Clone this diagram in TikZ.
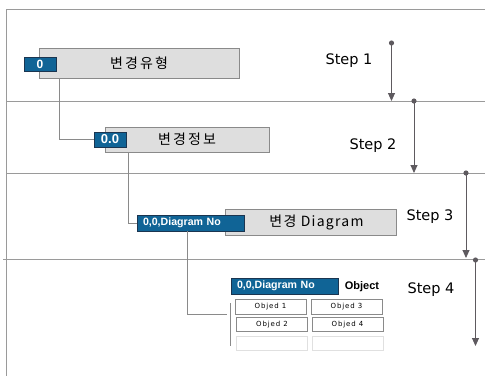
\documentclass[tikz,border=0pt]{standalone}
\usepackage{fontspec}
\setmainfont{Liberation Sans}
\newfontfamily\kr[LetterSpace=15]{Noto Sans CJK KR}
\newfontfamily\krd[LetterSpace=9]{Noto Sans CJK KR}
\newfontfamily\dv{DejaVu Sans}
\newfontfamily\objf[LetterSpace=12]{DejaVu Sans}
\usetikzlibrary{arrows.meta}
\definecolor{bluebox}{HTML}{106496}
\definecolor{blueedge}{HTML}{1B3550}
\definecolor{grayfill}{HTML}{DEDEDE}
\definecolor{grayedge}{HTML}{8A8A8A}
\definecolor{lineg}{HTML}{9A9A9A}
\definecolor{arrowg}{HTML}{5E5A5F}
\tikzset{
  graybox/.style={draw=grayedge, fill=grayfill, line width=0.9pt, inner sep=0pt, anchor=center},
  bluelabel/.style={draw=blueedge, fill=bluebox, line width=0.9pt, inner sep=0pt, text=white, font=\bfseries, anchor=center},
  widelabel/.style={bluelabel, minimum width=107pt, minimum height=16pt, text width=95pt, align=left, font=\bfseries\fontsize{10.6}{10.6}\selectfont},
  conn/.style={draw=grayedge, line width=0.9pt},
  sep/.style={draw=lineg, line width=0.9pt},
  steparrow/.style={draw=arrowg, line width=0.9pt, -{Triangle[width=7pt,length=8pt]}},
  stepdot/.style={fill=arrowg, draw=none},
  steplabel/.style={font=\dv\fontsize{14.5}{16}\selectfont, anchor=center, inner sep=0pt},
  objcell/.style={draw=grayedge, line width=0.8pt, fill=white, minimum width=71pt, minimum height=14.5pt, inner sep=0pt, font=\objf\fontsize{7}{7}\selectfont},
  emptycell/.style={draw=black!12, line width=0.8pt, fill=white, minimum width=71pt, minimum height=14pt, inner sep=0pt},
}
\begin{document}
\begin{tikzpicture}[x=1pt,y=-1pt]
\useasboundingbox (0,0) rectangle (485,376);
% frame and separators
\draw[sep] (485,9.5) -- (6,9.5) -- (6,376);
\draw[sep] (6,101) -- (485,101);
\draw[sep] (6,173) -- (485,173);
\draw[sep] (3,259.5) -- (485,259.5);

% step 1
\node[graybox, minimum width=200pt, minimum height=30pt] (g1) at (139,63) {\kr\fontsize{14}{16}\selectfont 변경유형};
\node[bluelabel, minimum width=32pt, minimum height=14pt, font=\bfseries\fontsize{12}{12}\selectfont] (b1) at (40,64) {0};
% step 2
\node[graybox, minimum width=164pt, minimum height=25pt] (g2) at (187,139.5) {\kr\fontsize{14}{16}\selectfont 변경정보};
\node[bluelabel, minimum width=32pt, minimum height=15pt, font=\bfseries\fontsize{13}{12}\selectfont] (b2) at (110,139.5) {0.0};
% step 3
\node[graybox, minimum width=171pt, minimum height=26pt] (g3) at (310.5,222) {\krd\fontsize{14}{16}\selectfont \hspace*{12pt}변경 Diagram};
\node[widelabel] (b3) at (190.5,223) {0,0,Diagram No};
% step 4
\node[widelabel] (b4) at (284.5,286) {0,0,Diagram No};
\node[font=\bfseries\fontsize{11}{11}\selectfont, inner sep=0pt] (objlbl) at (362,287) {Object};
\node[objcell] (o1) at (270.5,307) {Objed 1};
\node[objcell] (o3) at (346.5,307) {Objed 3};
\node[objcell] (o2) at (272,324.5) {Objed 2};
\node[objcell] (o4) at (347.5,324.5) {Objed 4};
\node[emptycell] (e1) at (271.5,343) {};
\node[emptycell] (e2) at (347.5,343) {};

% connectors
\draw[conn] ([xshift=21pt]g1.south west) |- (b2.west);
\draw[conn] ([xshift=24pt]g2.south west) |- (b3.west);
\coordinate (brk) at (227,314);
\coordinate (brt) at (230,303);
\coordinate (brb) at (230,346);
\draw[conn] ([xshift=51pt]b3.south west) |- (brk);
\draw[conn] (brt) -- (brb);

% step labels and arrows
\node[steplabel] (st1) at (349,61) {Step 1};
\node[steplabel] (st2) at (373,146) {Step 2};
\node[steplabel] (st3) at (430,217) {Step 3};
\node[steplabel] (st4) at (431,290) {Step 4};

\coordinate (a1s) at (391.5,43);  \coordinate (a1e) at (391.5,101);
\coordinate (a2s) at (414,101);   \coordinate (a2e) at (414,173);
\coordinate (a3s) at (466,173);   \coordinate (a3e) at (466,258);
\coordinate (a4s) at (475.5,260); \coordinate (a4e) at (475.5,346);
\foreach \s/\e in {a1s/a1e, a2s/a2e, a3s/a3e, a4s/a4e}{
  \draw[steparrow] (\s) -- (\e);
  \fill[stepdot] (\s) circle (2.6pt);
}
\end{tikzpicture}
\end{document}
